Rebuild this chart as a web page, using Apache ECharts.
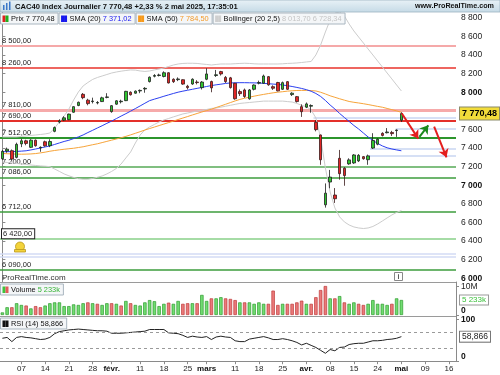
<!DOCTYPE html>
<html>
<head>
<meta charset="utf-8">
<script src="https://cdn.jsdelivr.net/npm/echarts@6.0.0/dist/echarts.min.js"></script>
<style>
html,body{margin:0;padding:0;background:#fff;}
#chart{width:500px;height:375px;}
</style>
</head>
<body>
<div id="chart"></div>
<script>
// ---------- trading days ----------
const daysDec2024 = [31];
const daysJan2025 = [2,3,6,7,8,9,10,13,14,15,16,17,20,21,22,23,24,27,28,29,30,31];
const daysFeb2025 = [3,4,5,6,7,10,11,12,13,14,17,18,19,20,21,24,25,26,27,28];
const daysMar2025 = [3,4,5,6,7,10,11,12,13,14,17,18,19,20,21,24,25,26,27,28,31];
const daysApr2025 = [1,2,3,4,7,8,9,10,11,14,15,16,17,22,23,24,25,28,29,30];
const daysMay2025 = [2,5,6,7,8,9,12,13,14,15,16,19];

// x tick labels (date -> text)
const tickLabels = [
  ['2025-01-07','07'],['2025-01-14','14'],['2025-01-21','21'],['2025-01-28','28'],
  ['2025-02-03','févr.'],['2025-02-11','11'],['2025-02-18','18'],['2025-02-25','25'],
  ['2025-03-03','mars'],['2025-03-11','11'],['2025-03-18','18'],['2025-03-25','25'],
  ['2025-04-01','avr.'],['2025-04-08','08'],['2025-04-15','15'],['2025-04-24','24'],
  ['2025-05-02','mai'],['2025-05-09','09'],['2025-05-16','16']
];
const monthNames = ['févr.','mars','avr.','mai'];

// ---------- OHLC ----------
const opens  = [7285,7368,7372,7300,7445,7478,7408,7485,7402,7468,
                7426,7580,7680,7700,7705,7785,7858,7978,7915,7900,
                7885,7900,7945,7792,7872,7898,7910,8000,7990,8014,
                8035,8115,8172,8180,8170,8210,8140,8136,8135,8065,
                8089,8110,8050,8140,8115,8180,8222,8160,8155,8097,
                8007,8025,7930,8032,8098,8097,8168,8060,8105,8032,
                8114,7975,7953,7845,7840,7850,7677,7541,6790,7035,
                6895,7290,7183,7230,7240,7262,7308,7275,7400,7442,
                7558,7565,7568,7588,7700];
const closes = [7365,7388,7282,7440,7478,7450,7485,7425,7408,7424,
                7470,7620,7692,7725,7765,7845,7892,7942,7878,7906,
                7890,7940,7950,7856,7908,7904,8010,7973,8012,8020,
                8042,8162,8180,8186,8210,8100,8114,8143,8088,8050,
                8140,8104,8110,8197,8047,8188,8197,8115,8050,7930,
                7985,7955,8025,8078,8105,8175,8080,8043,8015,8103,
                8032,7990,7900,7791,7875,7858,7598,7274,6915,7088,
                6855,7125,7104,7273,7326,7322,7285,7316,7482,7495,
                7536,7573,7555,7594,7770.48];
const lows   = [7275,7350,7270,7290,7410,7430,7400,7415,7360,7415,
                7410,7570,7665,7690,7700,7780,7850,7925,7860,7880,
                7870,7895,7935,7780,7865,7880,7905,7965,7985,7990,
                7995,8105,8160,8170,8160,8095,8100,8120,8080,8030,
                8080,8085,8030,8130,8000,8165,8180,8100,8040,7920,
                7960,7940,7920,8020,8085,8090,8070,8025,8010,8025,
                8025,7960,7890,7735,7830,7780,7580,7220,6760,6968,
                6810,7060,6995,7220,7230,7250,7275,7220,7390,7430,
                7525,7558,7530,7520,7680];
const highs  = [7380,7405,7385,7458,7500,7490,7495,7492,7418,7480,
                7495,7632,7710,7742,7770,7850,7900,7992,7930,7942,
                7905,7952,7990,7862,7915,7920,8015,8010,8020,8030,
                8055,8170,8195,8200,8225,8215,8150,8160,8140,8080,
                8150,8130,8120,8258,8125,8240,8230,8175,8165,8100,
                8030,8040,8035,8085,8125,8190,8175,8075,8112,8115,
                8120,8000,7960,7870,7890,7870,7700,7545,7020,7165,
                6970,7380,7195,7290,7335,7335,7315,7330,7560,7505,
                7570,7615,7585,7600,7785];

// ---------- indicators ----------
const sma20 = [7361,7361,7362,7364,7367,7371,7380,7390,7401,7412,
               7423,7439,7455,7471,7484,7502,7520,7541,7567,7591,
               7616,7640,7666,7690,7717,7744,7770,7797,7825,7853,
               7882,7910,7926,7941,7957,7972,7987,8001,8012,8022,
               8032,8042,8052,8062,8072,8080,8087,8095,8100,8102,
               8103,8103,8102,8101,8099,8096,8092,8088,8084,8078,
               8071,8062,8052,8041,8028,8011,7987,7955,7912,7863,
               7820,7772,7729,7686,7643,7605,7562,7519,7482,7450,
               7423,7403,7390,7380,7371.02];
const sma50 = [7342,7339,7337,7335,7334,7335,7337,7341,7348,7356,
               7366,7374,7381,7387,7393,7398,7406,7414,7425,7436,
               7446,7459,7472,7485,7498,7511,7526,7542,7559,7576,
               7594,7610,7626,7642,7658,7674,7690,7707,7723,7739,
               7756,7772,7788,7803,7818,7836,7853,7871,7889,7907,
               7923,7936,7947,7958,7968,7977,7986,7994,8001,8006,
               8012,8016,8019,8020,8020,8018,8014,8000,7982,7962,
               7946,7930,7915,7901,7892,7885,7877,7868,7858,7848,
               7839,7826,7813,7800,7784.50];
const bollUpper = [7520,7520,7520,7520,7525,7530,7536,7541,7546,7552,
                   7562,7616,7681,7745,7820,7917,8003,8068,8105,8138,
                   8159,8175,8191,8207,8218,8227,8234,8240,8238,8229,
                   8224,8229,8240,8250,8261,8277,8293,8304,8310,8312,
                   8312,8310,8304,8299,8293,8299,8304,8304,8304,8307,
                   8310,8312,8310,8306,8304,8304,8304,8304,8304,8306,
                   8310,8312,8315,8320,8326,8331,8401,8508,8648,8777,
                   8852,8863,8820,8734,8659,8594,8530,8465,8401,8336,
                   8272,8207,8143,8078,8013.70];
const bollLower = [7251,7245,7240,7235,7229,7224,7218,7213,7208,7205,
                   7200,7175,7149,7122,7102,7084,7071,7065,7065,7073,
                   7086,7100,7122,7149,7181,7229,7294,7358,7455,7541,
                   7595,7627,7654,7681,7702,7718,7735,7751,7767,7777,
                   7788,7799,7807,7815,7826,7830,7840,7850,7860,7870,
                   7880,7885,7890,7895,7900,7905,7905,7905,7905,7905,
                   7900,7895,7880,7860,7845,7810,7724,7509,7186,6928,
                   6756,6660,6606,6573,6552,6541,6535,6541,6557,6584,
                   6616,6649,6681,6708,6728.34];
const volumesM = [0.9,2.7,2.7,4.1,3.5,3.3,2.3,3.1,2.7,3.3,
                  4.1,4.4,4.4,3.1,3.1,3.7,3.5,4.1,4.4,4.1,
                  3.9,3.5,4.1,4.1,3.9,3.3,4.9,4.1,3.5,3.3,
                  4.4,5.2,4.8,3.1,3.9,4.3,3.9,4.9,3.9,4.1,
                  4.1,4.1,7.0,4.9,5.8,5.8,6.2,5.8,5.6,5.2,
                  4.4,4.4,4.4,3.9,4.4,3.9,3.9,8.5,3.5,3.9,
                  3.9,3.9,4.4,5.0,3.9,3.9,6.2,8.7,10.1,5.8,
                  5.8,6.6,4.4,3.9,4.4,3.9,3.5,3.9,5.2,3.9,
                  3.9,3.5,3.9,5.8,5.233];
const rsi14 = [55,57,47,57,59,57,56,54,52,53,
               57,66,71,73,75,76,77,76,75,74,
               73,73,72,67,67,67,68,69,70,71,
               72,76,76,76,76,68,67,66,62,57,
               60,58,57,59,52,58,60,58,57,49,
               47,47,53,55,57,59,56,52,52,54,
               52,49,45,39,43,38,33,26,19,28,
               25,33,34,40,42,43,43,46,49,49,
               50,52,53,55,58.866];

// ---------- horizontal levels & drawings ----------
const resistanceLevels = [8500, 8260, 7810, 7690];
const supportLevels = [7512, 7200, 7086, 6712, 6420, 6090];
const alertLevels = [6262, 6235];
const zoneLines = [[65.5, 7731], [82.8, 7605], [77.4, 7398], [77.0, 7318]]; // [start day index, price]
const arrowRedA = [[84.07, 7774], [87.56, 7502]];
const arrowGreen = [[87.8, 7520], [89.67, 7645]];
const arrowRedB = [[90.9, 7630], [93.5, 7301]];
const lastPrice = 7770.48, lastVolumeM = 5.233, lastRsi = 58.866;
const priceTicks = [6000,6200,6400,6600,6800,7000,7200,7400,7600,8000,8200,8400,8600,8800];

// ---------- build ----------
const pad = n => (n < 10 ? '0' : '') + n;
const categories = [];
[['2024-12', daysDec2024], ['2025-01', daysJan2025], ['2025-02', daysFeb2025],
 ['2025-03', daysMar2025], ['2025-04', daysApr2025], ['2025-05', daysMay2025]]
  .forEach(([m, ds]) => ds.forEach(d => categories.push(m + '-' + pad(d))));
const labelMap = {};
tickLabels.forEach(([d, t]) => labelMap[d] = t);
const NCAT = categories.length;

function fmtNum(v, dec) {
  const s = dec ? v.toFixed(dec) : String(Math.round(v));
  const [ip, fp] = s.split('.');
  const ipf = ip.replace(/\B(?=(\d{3})+(?!\d))/g, ' ');
  return fp ? ipf + ',' + fp : ipf;
}

const candleData = opens.map((o, i) => [o, closes[i], lows[i], highs[i]]);
const volData = volumesM.map((v, i) => {
  const prev = i > 0 ? closes[i - 1] : opens[i];
  const up = closes[i] >= prev;
  return { value: v, itemStyle: { color: up ? '#72dc72' : '#ea7a7a', borderColor: up ? '#2e9c2e' : '#bf3b3b', borderWidth: 0.7 } };
});

const FONT = '"Liberation Sans", Arial, sans-serif';
const levelStyle = {
  8500: { color: '#f5a9a9', width: 2 },
  8260: { color: '#e8332b', width: 1.5 },
  7810: { color: '#f6aaaa', width: 3 },
  7690: { color: '#e4302a', width: 2 },
  7512: { color: '#2c952c', width: 2 },
  7200: { color: '#56aa56', width: 1.5 },
  7086: { color: '#3d9c3d', width: 1.5 },
  6712: { color: '#3d9c3d', width: 1.5 },
  6420: { color: '#a6dca6', width: 2 },
  6090: { color: '#3d9c3d', width: 1.5 }
};
const levelLines = resistanceLevels.concat(supportLevels).map(v => ({
  yAxis: v,
  lineStyle: { color: levelStyle[v].color, width: levelStyle[v].width, type: 'solid' },
  label: {
    show: true, position: 'insideStartTop', formatter: fmtNum(v, 2), color: '#222',
    fontSize: 7.5, fontFamily: FONT, distance: [2, 1],
    backgroundColor: v === 6420 ? '#fff' : 'transparent',
    borderColor: v === 6420 ? '#222' : 'transparent', borderWidth: v === 6420 ? 1 : 0,
    padding: v === 6420 ? [1, 2, 0, 1] : 0
  }
})).concat(alertLevels.map(v => ({
  yAxis: v, lineStyle: { color: '#d3dbf5', width: 1.5, type: 'solid' }, label: { show: false }
})));

const mctx = document.createElement('canvas').getContext('2d');
function tw(t, font) { mctx.font = font; return mctx.measureText(t).width; }
const LF = '7.4px ' + FONT;
function legendRow(y, items) {
  let x = 0; const els = [];
  items.forEach(it => {
    const iconW = it.icon.length * 3;
    const textW = it.parts.reduce((s, p) => s + tw(p[0], LF), 0);
    const bw = 2 + iconW + 3 + textW + 3;
    els.push({ type: 'rect', z: 100, shape: { x: x + 0.5, y: y + 0.5, width: bw, height: 11 }, style: { fill: '#f4f6f8', stroke: '#a9b6c0', lineWidth: 1 } });
    it.icon.forEach((c, i) => els.push({ type: 'rect', z: 101, shape: { x: x + 2.5 + i * 3, y: y + 3, width: 3, height: 6.5 }, style: { fill: c } }));
    let tx = x + 2 + iconW + 3;
    it.parts.forEach(p => {
      els.push({ type: 'text', z: 101, x: tx, y: y + 6.5, style: { text: p[0], font: LF, fill: p[1], verticalAlign: 'middle', align: 'left' } });
      tx += tw(p[0], LF);
    });
    x += bw + 1;
  });
  return els;
}

const graphics = [
  { type: 'rect', z: 100, shape: { x: 0, y: 0, width: 500, height: 12 },
    style: { fill: new echarts.graphic.LinearGradient(0, 0, 0, 1, [{ offset: 0, color: '#e9f2f7' }, { offset: 1, color: '#c5dae6' }]), stroke: '#9db3c1', lineWidth: 0.8 } },
  { type: 'rect', z: 101, shape: { x: 3, y: 5, width: 1.5, height: 5 }, style: { fill: '#3c78c8' } },
  { type: 'rect', z: 101, shape: { x: 6, y: 3, width: 1.5, height: 7 }, style: { fill: '#3c78c8' } },
  { type: 'rect', z: 101, shape: { x: 9, y: 1.5, width: 1.5, height: 8.5 }, style: { fill: '#3c78c8' } },
  { type: 'text', z: 101, x: 15, y: 6.5, style: { text: 'CAC40 Index Journalier 7 770,48 +2,33 % 2 mai 2025, 17:35:01', font: 'bold 7.6px ' + FONT, fill: '#111', verticalAlign: 'middle' } },
  { type: 'text', z: 101, x: 494, y: 6.5, style: { text: 'www.ProRealTime.com', font: 'bold 7.2px ' + FONT, fill: '#111', verticalAlign: 'middle', align: 'right' } },
  // panel separators
  { type: 'line', z: 50, shape: { x1: 0, y1: 282.5, x2: 456, y2: 282.5 }, style: { stroke: '#9a9a9a', lineWidth: 1 } },
  { type: 'line', z: 50, shape: { x1: 0, y1: 316.5, x2: 456, y2: 316.5 }, style: { stroke: '#9a9a9a', lineWidth: 1 } },
  { type: 'text', z: 60, x: 2, y: 278, style: { text: 'ProRealTime.com', font: '8px ' + FONT, fill: '#333', verticalAlign: 'middle' } },
  // info box
  { type: 'rect', z: 60, shape: { x: 394.5, y: 272.5, width: 8, height: 8 }, style: { fill: '#fff', stroke: '#888', lineWidth: 1 } },
  { type: 'text', z: 61, x: 398.5, y: 277, style: { text: 'i', font: 'bold 7px ' + FONT, fill: '#555', align: 'center', verticalAlign: 'middle' } },
  // bell
  { type: 'circle', z: 60, shape: { cx: 20, cy: 246.5, r: 4.5 }, style: { fill: '#f3d33a', stroke: '#b8951a', lineWidth: 0.8 } },
  { type: 'rect', z: 60, shape: { x: 14.5, y: 249.5, width: 11, height: 2.5 }, style: { fill: '#f3d33a', stroke: '#b8951a', lineWidth: 0.8 } }
].concat(legendRow(12.5, [
  { icon: ['#e02020', '#20b020'], parts: [['Prix 7 770,48', '#111']] },
  { icon: ['#1818ee', '#1818ee'], parts: [['SMA (20) ', '#111'], ['7 371,02', '#1c1cf0']] },
  { icon: ['#f79a1c', '#f79a1c'], parts: [['SMA (50) ', '#111'], ['7 784,50', '#f39a2a']] },
  { icon: ['#cfcfcf', '#cfcfcf'], parts: [['Bollinger (20 2,5) ', '#111'], ['8 013,70 6 728,34', '#c4c4c4']] }
])).concat(legendRow(283.5, [
  { icon: ['#3cc43c', '#e25a5a'], parts: [['Volume ', '#111'], ['5 233k', '#34b234']] }
])).concat(legendRow(317.5, [
  { icon: ['#111', '#111'], parts: [['RSI (14) 58,866', '#111']] }
]));

const axisGray = '#8a8a8a';
const option = {
  animation: false,
  backgroundColor: '#fff',
  textStyle: { fontFamily: FONT },
  grid: [
    { left: 0, right: 44, top: 12, height: 270 },
    { left: 0, right: 44, top: 282, height: 33 },
    { left: 0, right: 44, top: 316, height: 45.2 }
  ],
  xAxis: [
    { type: 'category', gridIndex: 0, data: categories, show: false, boundaryGap: true },
    { type: 'category', gridIndex: 1, data: categories, show: false, boundaryGap: true },
    { type: 'category', gridIndex: 2, data: categories, boundaryGap: true,
      axisLine: { show: true, lineStyle: { color: axisGray } },
      axisTick: { show: true, length: 3, alignWithLabel: true, interval: (i, v) => labelMap[v] !== undefined, lineStyle: { color: axisGray } },
      axisLabel: { interval: (i, v) => labelMap[v] !== undefined, margin: 4, fontSize: 8, color: '#222',
        formatter: v => { const t = labelMap[v] || ''; return monthNames.indexOf(t) >= 0 ? '{b|' + t + '}' : t; },
        rich: { b: { fontWeight: 'bold', fontSize: 8, color: '#111' } } },
      splitLine: { show: false } },
    { type: 'value', gridIndex: 0, min: -0.5, max: NCAT - 0.5, show: false }
  ],
  yAxis: [
    { type: 'value', gridIndex: 0, position: 'right', min: 5960, max: 8863, scale: true,
      splitLine: { show: false },
      axisLine: { show: true, lineStyle: { color: axisGray } },
      axisTick: { show: true, length: 3, customValues: priceTicks, lineStyle: { color: axisGray } },
      axisLabel: { customValues: priceTicks, margin: 5, fontSize: 8.5, color: '#222',
        formatter: v => v % 1000 === 0 ? '{b|' + fmtNum(v) + '}' : fmtNum(v),
        rich: { b: { fontWeight: 'bold', fontSize: 8.5, color: '#111' } } } },
    { type: 'value', gridIndex: 1, position: 'right', min: 0, max: 11.5,
      splitLine: { show: false },
      axisLine: { show: true, lineStyle: { color: axisGray } },
      axisTick: { show: true, length: 3, customValues: [0, 10], lineStyle: { color: axisGray } },
      axisLabel: { customValues: [0, 10], margin: 5, fontSize: 8.5, color: '#222', verticalAlignMinLabel: 'bottom',
        formatter: v => v === 10 ? '10M' : '{b|0}', rich: { b: { fontWeight: 'bold', fontSize: 8.5, color: '#111' } } } },
    { type: 'value', gridIndex: 2, position: 'right', min: 0, max: 108.4,
      splitLine: { show: false },
      axisLine: { show: true, lineStyle: { color: axisGray } },
      axisTick: { show: true, length: 3, customValues: [0, 100], lineStyle: { color: axisGray } },
      axisLabel: { customValues: [0, 100], margin: 5, fontSize: 8.5, color: '#111', verticalAlignMinLabel: 'bottom',
        formatter: v => '{b|' + v + '}', rich: { b: { fontWeight: 'bold', fontSize: 8.5, color: '#111' } } } }
  ],
  graphic: graphics,
  series: [
    { name: 'BollUp', type: 'line', xAxisIndex: 0, yAxisIndex: 0, data: bollUpper, symbol: 'none',
      lineStyle: { color: '#cccccc', width: 1 }, z: 2, silent: true,
      markLine: { z: 1, silent: true, symbol: ['none', 'none'], data: levelLines, animation: false } },
    { name: 'BollLow', type: 'line', xAxisIndex: 0, yAxisIndex: 0, data: bollLower, symbol: 'none',
      lineStyle: { color: '#cccccc', width: 1 }, z: 2, silent: true },
    { name: 'Zones', type: 'lines', coordinateSystem: 'cartesian2d', xAxisIndex: 3, yAxisIndex: 0, z: 2,
      data: zoneLines.map(([s, p]) => ({ coords: [[s, p], [NCAT - 0.5, p]] })),
      lineStyle: { color: '#c9d6f2', width: 1.5, opacity: 1 }, symbol: ['none', 'none'], silent: true },
    { name: 'SMA50', type: 'line', xAxisIndex: 0, yAxisIndex: 0, data: sma50, symbol: 'none',
      lineStyle: { color: '#f7a43a', width: 1 }, z: 3, silent: true },
    { name: 'SMA20', type: 'line', xAxisIndex: 0, yAxisIndex: 0, data: sma20, symbol: 'none',
      lineStyle: { color: '#2b3ff0', width: 1 }, z: 3, silent: true },
    { name: 'Prix', type: 'candlestick', xAxisIndex: 0, yAxisIndex: 0, data: candleData, barWidth: 3, z: 4,
      itemStyle: { color: '#2fc42f', color0: '#e12626', borderColor: '#1e1e1e', borderColor0: '#3a1a1a', borderWidth: 0.8 },
      markLine: { z: 6, silent: true, symbol: ['none', 'none'],
        data: [{ yAxis: lastPrice, lineStyle: { color: 'rgba(0,0,0,0)', width: 0 },
          label: { show: true, position: 'end', distance: 4, formatter: fmtNum(lastPrice, 2), color: '#000', fontWeight: 'bold', fontSize: 9,
            backgroundColor: '#f2dc3a', borderColor: '#8a8a6a', borderWidth: 1, padding: [2, 2, 1, 2] } }] } },
    { name: 'Arrows', type: 'lines', coordinateSystem: 'cartesian2d', xAxisIndex: 3, yAxisIndex: 0, z: 7,
      symbol: ['none', 'arrow'], symbolSize: 8, silent: true,
      lineStyle: { opacity: 1, width: 2 },
      data: [
        { coords: arrowRedA, lineStyle: { color: '#e41e1e', width: 2, opacity: 1 } },
        { coords: arrowGreen, lineStyle: { color: '#1c8a1c', width: 2, opacity: 1 } },
        { coords: arrowRedB, lineStyle: { color: '#e41e1e', width: 2, opacity: 1 } }
      ] },
    { name: 'Volume', type: 'bar', xAxisIndex: 1, yAxisIndex: 1, data: volData, barWidth: 3.4, silent: true,
      markLine: { silent: true, symbol: ['none', 'none'],
        data: [{ yAxis: lastVolumeM, lineStyle: { color: 'rgba(0,0,0,0)', width: 0 },
          label: { show: true, position: 'end', distance: 4, formatter: '5 233k', color: '#3cc03c', fontSize: 8,
            backgroundColor: '#fff', borderColor: '#9a9a9a', borderWidth: 1, padding: [1, 2, 0, 2] } }] } },
    { name: 'RSI', type: 'line', xAxisIndex: 2, yAxisIndex: 2, data: rsi14, symbol: 'none',
      lineStyle: { color: '#222', width: 1 }, silent: true,
      markLine: { silent: true, symbol: ['none', 'none'],
        data: [
          { yAxis: 70, lineStyle: { color: '#9a9a9a', width: 1, type: [3, 3] }, label: { show: false } },
          { yAxis: 30, lineStyle: { color: '#9a9a9a', width: 1, type: [3, 3] }, label: { show: false } },
          { yAxis: lastRsi, lineStyle: { color: 'rgba(0,0,0,0)', width: 0 },
            label: { show: true, position: 'end', distance: 4, formatter: fmtNum(lastRsi, 3), color: '#222', fontSize: 8.5,
              backgroundColor: '#fff', borderColor: '#777', borderWidth: 1, padding: [1, 2, 0, 2] } }
        ] } }
  ]
};

const chart = echarts.init(document.getElementById('chart'), null, { renderer: 'canvas' });
chart.setOption(option);
</script>
</body>
</html>
